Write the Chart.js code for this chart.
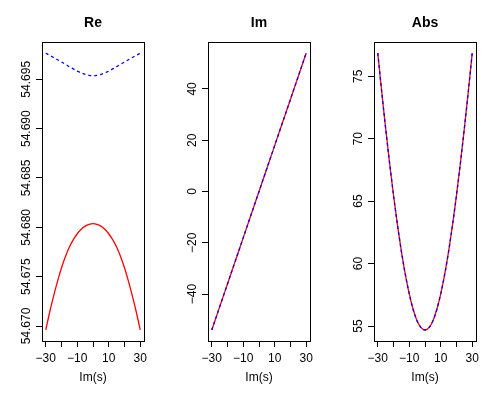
<!DOCTYPE html>
<html>
<head>
<meta charset="utf-8">
<script src="https://cdn.jsdelivr.net/npm/chart.js"></script>
<style>
  body { margin: 0; background: #fff; }
  .wrap { position: relative; width: 498px; height: 394px; background: #fff; }
  canvas { position: absolute; top: 0; }
</style>
</head>
<body>
<div class="wrap">
  <canvas id="re" width="166" height="394" style="left:0"></canvas>
  <canvas id="im" width="166" height="394" style="left:166px"></canvas>
  <canvas id="abs" width="166" height="394" style="left:332px"></canvas>
</div>
<script>
// Im(s) sample points
const omega = [-30, -27.5, -25, -22.5, -20, -17.5, -15, -12.5, -10, -7.5, -5, -2.5, 0,
               2.5, 5, 7.5, 10, 12.5, 15, 17.5, 20, 22.5, 25, 27.5, 30];

// real part: red = full, blue dashed = approximation
const reFull = [54.66960, 54.67142, 54.67305, 54.67455, 54.67590, 54.67705, 54.67800, 54.67875,
                54.67935, 54.67980, 54.68012, 54.68030, 54.68037, 54.68030, 54.68012, 54.67980,
                54.67935, 54.67875, 54.67800, 54.67705, 54.67590, 54.67455, 54.67305, 54.67142, 54.66960];
const reApprox = [54.69764, 54.69743, 54.69721, 54.69698, 54.69675, 54.69652, 54.69628, 54.69605,
                  54.69583, 54.69565, 54.69550, 54.69540, 54.69536, 54.69540, 54.69550, 54.69565,
                  54.69583, 54.69605, 54.69628, 54.69652, 54.69675, 54.69698, 54.69721, 54.69743, 54.69764];

// imaginary part and modulus (both curves overlap)
const imValues = [-54, -49.5, -45, -40.5, -36, -31.5, -27, -22.5, -18, -13.5, -9, -4.5, 0,
                  4.5, 9, 13.5, 18, 22.5, 27, 31.5, 36, 40.5, 45, 49.5, 54];
const absValues = [76.85, 73.76, 70.82, 68.05, 65.47, 63.10, 60.98, 59.13, 57.57, 56.32, 55.41, 54.87, 54.68,
                   54.87, 55.41, 56.32, 57.57, 59.13, 60.98, 63.10, 65.47, 68.05, 70.82, 73.76, 76.85];

const xTicks = [-30, -20, -10, 0, 10, 20, 30];
const xTickLabels = ['\u221230', '', '\u221210', '', '10', '', '30'];
const reTicks = [54.670, 54.675, 54.680, 54.685, 54.690, 54.695];
const imTicks = [-40, -20, 0, 20, 40];
const absTicks = [55, 60, 65, 70, 75];

const FONT = '"Liberation Sans", Arial, Helvetica, sans-serif';
Chart.defaults.font.family = FONT;
Chart.defaults.color = '#000';

// box around plot area + bold panel title
const framePlugin = {
  id: 'frame',
  afterDraw(chart, args, opts) {
    const { ctx, chartArea: a } = chart;
    ctx.save();
    ctx.strokeStyle = '#000';
    ctx.lineWidth = 1;
    ctx.strokeRect(Math.round(a.left) + 0.5, Math.round(a.top) + 0.5,
                   Math.round(a.right - a.left), Math.round(a.bottom - a.top));
    ctx.font = 'bold 14px ' + FONT;
    ctx.fillStyle = '#000';
    ctx.textAlign = 'center';
    ctx.textBaseline = 'middle';
    ctx.fillText(opts.text, (a.left + a.right) / 2, 23);
    ctx.restore();
  }
};

// padding so rotated y labels end up centred ~16px left of the box
function yLabelPad(labels) {
  const c = document.createElement('canvas').getContext('2d');
  c.font = '12px ' + FONT;
  const widest = Math.max(...labels.map(l => c.measureText(l).width));
  return 42 - 6 - 26.5 - widest / 2;
}

function fmtMinus(v) {
  return String(v).replace('-', '\u2212');
}

function panel(id, title, red, blue, yMin, yMax, yTicks, fmt) {
  const labels = yTicks.map(fmt);
  new Chart(document.getElementById(id), {
    type: 'line',
    data: {
      datasets: [
        {
          data: omega.map((x, i) => ({ x, y: red[i] })),
          borderColor: '#ff0000', borderWidth: 1.3, pointRadius: 0,
          cubicInterpolationMode: 'monotone', order: 2
        },
        {
          data: omega.map((x, i) => ({ x, y: blue[i] })),
          borderColor: '#0000ff', borderWidth: 1.3, borderDash: [3, 3], pointRadius: 0,
          cubicInterpolationMode: 'monotone', order: 1
        }
      ]
    },
    options: {
      responsive: false,
      animation: false,
      events: [],
      layout: { padding: { top: 42, right: 22, left: 0, bottom: 0 } },
      plugins: {
        legend: { display: false },
        tooltip: { enabled: false },
        frame: { text: title }
      },
      scales: {
        x: {
          type: 'linear', min: -32.4, max: 32.4,
          afterBuildTicks: s => { s.ticks = xTicks.map(v => ({ value: v })); },
          afterFit: s => { s.height = 53; },
          grid: { drawOnChartArea: false, drawTicks: true, tickLength: 6, color: '#000' },
          border: { display: false },
          ticks: {
            autoSkip: false, maxRotation: 0, padding: 4, font: { size: 12 },
            callback: (v, i) => xTickLabels[i]
          },
          title: { display: true, text: 'Im(s)', font: { size: 12 }, padding: { top: 0, bottom: 9 } }
        },
        y: {
          type: 'linear', min: yMin, max: yMax,
          afterBuildTicks: s => { s.ticks = yTicks.map(v => ({ value: v })); },
          afterFit: s => { s.width = 42; },
          grid: { drawOnChartArea: false, drawTicks: true, tickLength: 6, color: '#000' },
          border: { display: false },
          ticks: {
            autoSkip: false, minRotation: 90, maxRotation: 90, crossAlign: 'center',
            padding: yLabelPad(labels), font: { size: 12 },
            callback: (v, i) => labels[i]
          }
        }
      }
    },
    plugins: [framePlugin]
  });
}

panel('re', 'Re', reFull, reApprox, 54.66848, 54.69878, reTicks, v => v.toFixed(3));
panel('im', 'Im', imValues, imValues, -58.3, 58.3, imTicks, fmtMinus);
panel('abs', 'Abs', absValues, absValues, 53.8, 77.74, absTicks, v => String(v));
</script>
</body>
</html>
